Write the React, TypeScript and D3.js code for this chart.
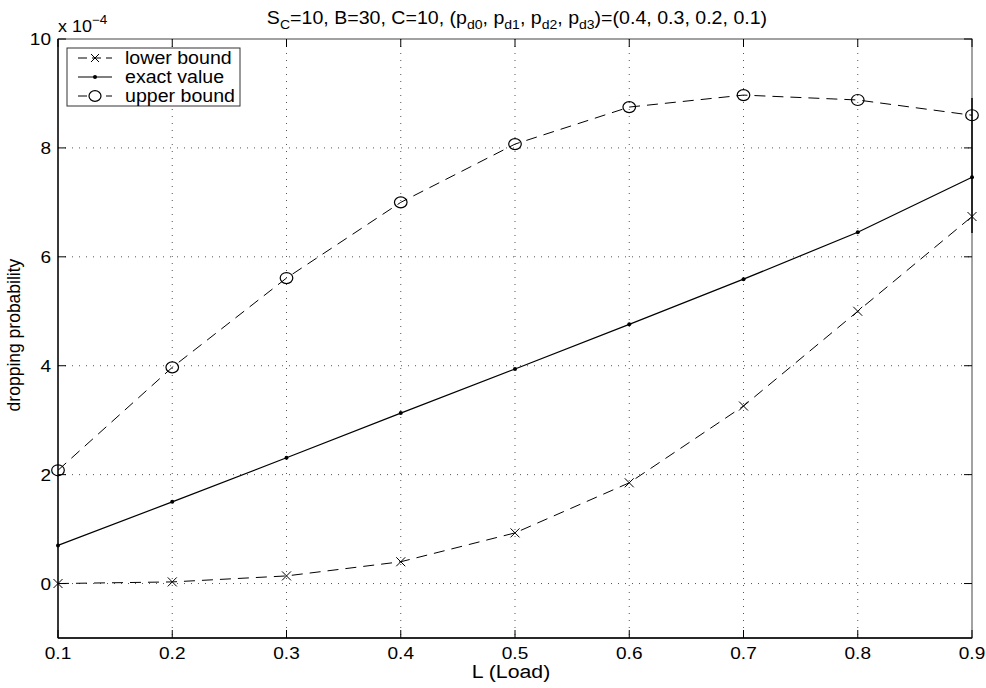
import React from "react";
import * as d3 from "d3";

const loads = [0.1, 0.2, 0.3, 0.4, 0.5, 0.6, 0.7, 0.8, 0.9];
const lowerBound = [0.0, 0.03, 0.14, 0.4, 0.93, 1.85, 3.26, 5.0, 6.74];
const exactValue = [0.7, 1.5, 2.31, 3.13, 3.94, 4.76, 5.59, 6.45, 7.46];
const upperBound = [2.08, 3.97, 5.61, 7.0, 8.07, 8.75, 8.97, 8.88, 8.6];
const xTicks = [0.1, 0.2, 0.3, 0.4, 0.5, 0.6, 0.7, 0.8, 0.9];
const yTicks = [0, 2, 4, 6, 8, 10];
const legendLabels = ["lower bound", "exact value", "upper bound"];

const W = 986, H = 688;
const L = 58, R = 972, T = 39, B = 638;
const FONT = "'Liberation Sans', Arial, Helvetica, sans-serif";
const SX = 1.12;

function SText(props: { x: number; y: number; anchor?: string; size: number; children: React.ReactNode }) {
  return (
    <g transform={`translate(${props.x},${props.y}) scale(${SX},1)`}>
      <text x={0} y={0} textAnchor={props.anchor || "start"} fontSize={props.size} fill="#000">
        {props.children}
      </text>
    </g>
  );
}

export default function App() {
  const x = d3.scaleLinear().domain([0.1, 0.9]).range([L, R]);
  const y = d3.scaleLinear().domain([-1, 10]).range([B, T]);
  const line = d3.line<number>().x((_, i) => x(loads[i])).y(d => y(d));

  const cross = (cx: number, cy: number, s = 4.5) =>
    `M${cx - s},${cy - s}L${cx + s},${cy + s}M${cx - s},${cy + s}L${cx + s},${cy - s}`;

  const legendY = [58, 77, 96];

  return (
    <svg width={W} height={H} style={{ position: "absolute", left: 0, top: 0, background: "#fff" }} fontFamily={FONT}>
      <rect x={0} y={0} width={W} height={H} fill="#fff" />
      {/* grid */}
      <g stroke="#555" strokeWidth={1} strokeDasharray="1,6">
        {xTicks.slice(1, -1).map(t => (
          <line key={"gx" + t} x1={x(t)} x2={x(t)} y1={T} y2={B} />
        ))}
        {yTicks.filter(t => t < 10).map(t => (
          <line key={"gy" + t} x1={L} x2={R} y1={y(t)} y2={y(t)} />
        ))}
      </g>
      {/* box */}
      <rect x={L} y={T} width={R - L} height={B - T} fill="none" stroke="#444" strokeWidth={1} />
      <line x1={L} x2={L} y1={T} y2={B} stroke="#000" strokeWidth={1.3} />
      <line x1={L} x2={R} y1={B} y2={B} stroke="#000" strokeWidth={1.3} />
      {/* ticks */}
      <g stroke="#000" strokeWidth={1}>
        {xTicks.map(t => (
          <g key={"tx" + t}>
            <line x1={x(t)} x2={x(t)} y1={B} y2={B - 8} />
            <line x1={x(t)} x2={x(t)} y1={T} y2={T + 8} />
          </g>
        ))}
        {yTicks.map(t => (
          <g key={"ty" + t}>
            <line x1={L} x2={L + 8} y1={y(t)} y2={y(t)} />
            <line x1={R} x2={R - 8} y1={y(t)} y2={y(t)} />
          </g>
        ))}
      </g>
      {/* tick labels */}
      {xTicks.map(t => (
        <SText key={"lx" + t} x={x(t)} y={B + 21} anchor="middle" size={17}>{t.toFixed(1)}</SText>
      ))}
      {yTicks.map(t => (
        <SText key={"ly" + t} x={L - 7} y={y(t) + 6} anchor="end" size={17}>{t}</SText>
      ))}
      {/* exponent */}
      <SText x={L} y={T - 7} size={16}>
        x 10<tspan dy={-8} fontSize={12}>−4</tspan>
      </SText>
      {/* right side vertical segment */}
      <line x1={R} x2={R} y1={98} y2={233} stroke="#000" strokeWidth={1.5} />
      {/* series */}
      <path d={line(lowerBound) || ""} fill="none" stroke="#000" strokeWidth={1} strokeDasharray="11,7" />
      <path d={line(upperBound) || ""} fill="none" stroke="#000" strokeWidth={1} strokeDasharray="11,7" />
      <path d={line(exactValue) || ""} fill="none" stroke="#000" strokeWidth={1.2} />
      {lowerBound.map((v, i) => (
        <path key={"lb" + i} d={cross(x(loads[i]), y(v))} stroke="#000" strokeWidth={1} fill="none" />
      ))}
      {exactValue.map((v, i) => (
        <circle key={"ev" + i} cx={x(loads[i])} cy={y(v)} r={2} fill="#000" />
      ))}
      {upperBound.map((v, i) => (
        <ellipse key={"ub" + i} cx={x(loads[i])} cy={y(v)} rx={6.3} ry={5.5} fill="none" stroke="#000" strokeWidth={1.2} />
      ))}
      {/* legend */}
      <g>
        <rect x={67} y={48} width={173} height={58} fill="#fff" stroke="#333" strokeWidth={1} />
        <line x1={78} x2={112} y1={legendY[0]} y2={legendY[0]} stroke="#000" strokeWidth={1} strokeDasharray="9,5" />
        <path d={cross(95, legendY[0], 4)} stroke="#000" strokeWidth={1} />
        <line x1={78} x2={112} y1={legendY[1]} y2={legendY[1]} stroke="#000" strokeWidth={1.2} />
        <circle cx={95} cy={legendY[1]} r={2} fill="#000" />
        <line x1={78} x2={112} y1={legendY[2]} y2={legendY[2]} stroke="#000" strokeWidth={1} strokeDasharray="9,5" />
        <ellipse cx={95} cy={legendY[2]} rx={6} ry={5.3} fill="#fff" stroke="#000" strokeWidth={1.2} />
        {legendLabels.map((lab, i) => (
          <SText key={lab} x={125} y={legendY[i] + 6} size={17.5}>{lab}</SText>
        ))}
      </g>
      {/* title */}
      <SText x={517} y={24} anchor="middle" size={17.5}>
        S<tspan dy={5} fontSize={12.5}>C</tspan><tspan dy={-5}>=10, B=30, C=10, (p</tspan>
        <tspan dy={5} fontSize={12.5}>d0</tspan><tspan dy={-5}>, p</tspan>
        <tspan dy={5} fontSize={12.5}>d1</tspan><tspan dy={-5}>, p</tspan>
        <tspan dy={5} fontSize={12.5}>d2</tspan><tspan dy={-5}>, p</tspan>
        <tspan dy={5} fontSize={12.5}>d3</tspan><tspan dy={-5}>)=(0.4, 0.3, 0.2, 0.1)</tspan>
      </SText>
      {/* axis labels */}
      <SText x={511} y={678} anchor="middle" size={19}>L (Load)</SText>
      <text transform={`translate(20,335) rotate(-90)`} textAnchor="middle" fontSize={17.5} fill="#000">
        dropping probability
      </text>
    </svg>
  );
}
